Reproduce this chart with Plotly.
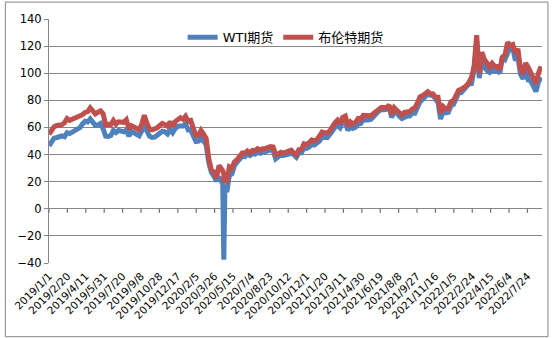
import pandas as pd
import plotly.graph_objects as go

# Weekly settlement prices (USD/bbl), every 7 days starting 2019-01-01
wti = [
    46.5, 49.8, 52.1, 52.6, 53.3, 53.7, 53.1, 56.1, 55.5, 56.6,
    56.9, 59.0, 59.9, 62.6, 64.6, 64.1, 66.3, 63.9, 61.4, 61.8,
    62.9, 59.1, 53.5, 53.3, 54.0, 57.8, 56.3, 57.8, 57.6, 56.8,
    58.1, 53.6, 57.1, 56.3, 54.9, 53.9, 57.4, 62.9, 57.3, 53.6,
    52.6, 52.8, 54.2, 55.5, 57.2, 56.8, 55.2, 58.4, 56.1, 59.2,
    60.9, 61.1, 61.1, 62.7, 58.2, 58.3, 53.5, 49.6, 49.9, 52.0,
    49.9, 47.2, 34.4, 26.9, 24.0, 20.5, 23.6, 20.1, 10.0, 12.3,
    24.6, 25.8, 32.0, 34.4, 36.8, 38.9, 38.4, 40.4, 39.3, 40.6,
    40.3, 41.9, 41.0, 41.7, 41.6, 42.9, 43.4, 42.8, 36.8, 38.3,
    39.8, 39.3, 39.6, 40.2, 41.7, 39.6, 38.0, 41.4, 41.4, 44.9,
    44.6, 45.6, 47.6, 47.0, 48.0, 49.9, 53.2, 53.0, 52.6, 54.8,
    58.4, 60.1, 61.7, 59.8, 64.0, 64.8, 57.8, 60.6, 59.3, 60.2,
    62.4, 62.9, 65.7, 65.3, 65.5, 66.1, 67.7, 70.0, 72.1, 73.1,
    73.0, 73.4, 75.3, 67.4, 71.7, 70.6, 68.3, 66.6, 67.5, 68.5,
    68.4, 70.5, 70.5, 75.3, 78.9, 80.6, 83.0, 84.7, 83.9, 84.2,
    80.8, 78.5, 66.2, 72.1, 70.7, 71.1, 76.0, 77.0, 81.2, 85.4,
    85.6, 88.2, 89.4, 92.1, 92.4, 103.4, 123.7, 96.4, 109.3, 104.2,
    102.0, 100.6, 102.6, 101.7, 102.4, 99.8, 112.4, 110.3, 114.7, 119.4,
    118.9, 109.5, 111.8, 99.5, 95.8, 104.2, 95.0, 94.4, 90.5, 86.5,
    93.7, 97.0,
]
brent = [
    54.9, 58.7, 60.6, 61.5, 61.3, 62.0, 63.4, 66.5, 65.2, 65.9,
    66.7, 67.6, 67.9, 69.4, 71.1, 71.7, 74.5, 72.8, 69.9, 71.2,
    72.2, 70.1, 61.9, 62.3, 62.1, 65.1, 62.4, 64.2, 64.4, 63.8,
    65.7, 58.9, 61.3, 60.0, 59.5, 58.3, 62.4, 69.0, 63.1, 58.9,
    58.2, 58.7, 59.7, 61.6, 63.0, 62.1, 60.9, 64.3, 60.8, 64.3,
    66.1, 67.2, 66.0, 68.3, 64.5, 65.2, 59.5, 54.0, 54.0, 57.8,
    55.0, 51.9, 37.2, 28.7, 27.2, 22.7, 31.9, 29.6, 19.3, 20.5,
    31.0, 30.0, 34.7, 36.2, 39.6, 41.2, 41.0, 42.6, 41.2, 43.1,
    42.9, 44.3, 43.2, 44.4, 44.5, 45.5, 45.9, 45.6, 39.8, 40.5,
    41.7, 41.0, 41.9, 42.5, 43.2, 41.2, 39.7, 43.6, 43.8, 48.0,
    47.4, 48.8, 50.8, 50.1, 51.1, 53.6, 56.6, 56.0, 55.9, 57.5,
    61.1, 63.4, 65.4, 62.7, 67.5, 68.4, 60.8, 64.1, 62.7, 63.7,
    66.6, 65.9, 68.9, 68.6, 68.7, 68.7, 70.3, 72.2, 74.0, 74.8,
    74.8, 74.5, 76.5, 69.4, 74.5, 72.4, 70.6, 69.0, 71.1, 71.6,
    71.7, 73.6, 74.4, 78.1, 82.6, 83.4, 85.1, 86.4, 84.7, 84.8,
    82.4, 82.3, 70.6, 75.4, 73.7, 74.0, 78.9, 80.0, 83.7, 87.5,
    88.2, 89.2, 90.8, 93.3, 96.8, 105.0, 128.0, 99.9, 115.5, 110.2,
    106.6, 104.6, 107.3, 105.0, 105.0, 102.5, 111.9, 113.6, 122.8, 120.6,
    121.2, 114.7, 118.0, 102.8, 99.5, 107.4, 104.4, 100.5, 96.3, 92.3,
    100.2, 105.1,
]

# Extra daily settlements around the April 2020 WTI contract expiry
extra_dates = ["2020-04-17", "2020-04-20", "2020-04-23"]
extra_wti = [18.3, -37.6, 16.5]
extra_brent = [28.1, 25.6, 21.3]

week_dates = pd.date_range("2019-01-01", periods=len(wti), freq="7D")
df = pd.concat([
    pd.DataFrame({"date": week_dates, "wti": wti, "brent": brent}),
    pd.DataFrame({"date": pd.to_datetime(extra_dates), "wti": extra_wti, "brent": extra_brent}),
]).sort_values("date")

# Category labels every 50 days
tick_dates = pd.date_range("2019-01-01", "2022-08-31", freq="50D")
tick_text = [f"{d.year}/{d.month}/{d.day}" for d in tick_dates]

BLUE = "#4F81BD"
RED = "#C0504D"
GRID = "#868686"
FONT = "DejaVu Sans, Noto Sans CJK SC, sans-serif"
x_range = ["2019-01-01", "2022-09-01 12:00"]
y_range = [-40, 140]
PLOT_H = 245  # plot-area height in px
tick_len = 4 * (y_range[1] - y_range[0]) / PLOT_H  # 4 px tick marks below the zero axis

fig = go.Figure()
fig.add_trace(go.Scatter(x=df["date"], y=df["wti"], mode="lines", name="WTI期货",
                         line=dict(color=BLUE, width=5)))
fig.add_trace(go.Scatter(x=df["date"], y=df["brent"], mode="lines", name="布伦特期货",
                         line=dict(color=RED, width=5)))

# category-axis tick marks hanging below the zero line
tick_shapes = [
    dict(type="line", xref="x", yref="y",
         x0=d.strftime("%Y-%m-%d"), x1=d.strftime("%Y-%m-%d"), y0=0, y1=-tick_len,
         line=dict(color="#6e6e6e", width=1.2), layer="above")
    for d in tick_dates
]

border = dict(type="rect", xref="paper", yref="paper",
              x0=(1 - 45) / 497, x1=(548 - 45) / 497,
              y0=(263 - 337) / 245, y1=(263 - 1) / 245,
              line=dict(color=GRID, width=1), fillcolor="rgba(0,0,0,0)", layer="below")

fig.update_layout(
    width=555, height=338,
    margin=dict(l=45, r=13, t=18, b=75),
    paper_bgcolor="white", plot_bgcolor="white",
    font=dict(family=FONT, size=11, color="black"),
    showlegend=True,
    legend=dict(orientation="h", x=0.48, xanchor="center", y=0.925, yanchor="middle",
                font=dict(size=13, family=FONT), bgcolor="rgba(0,0,0,0)",
                itemwidth=30, tracegroupgap=0),
    xaxis=dict(type="date", range=x_range, tickvals=tick_dates, ticktext=tick_text,
               tickangle=-45, tickfont=dict(size=10.5), showgrid=False, showline=False,
               ticks="", zeroline=False, ticklabelstandoff=4),
    yaxis=dict(range=y_range, dtick=20, tick0=0, showgrid=True, gridcolor=GRID,
               gridwidth=1, showline=True, linecolor=GRID, ticks="outside",
               ticklen=4, tickcolor=GRID, zeroline=True, zerolinecolor=GRID,
               zerolinewidth=1, tickfont=dict(size=11.5)),
    shapes=tick_shapes + [border],
)

fig.write_html("out.html")
